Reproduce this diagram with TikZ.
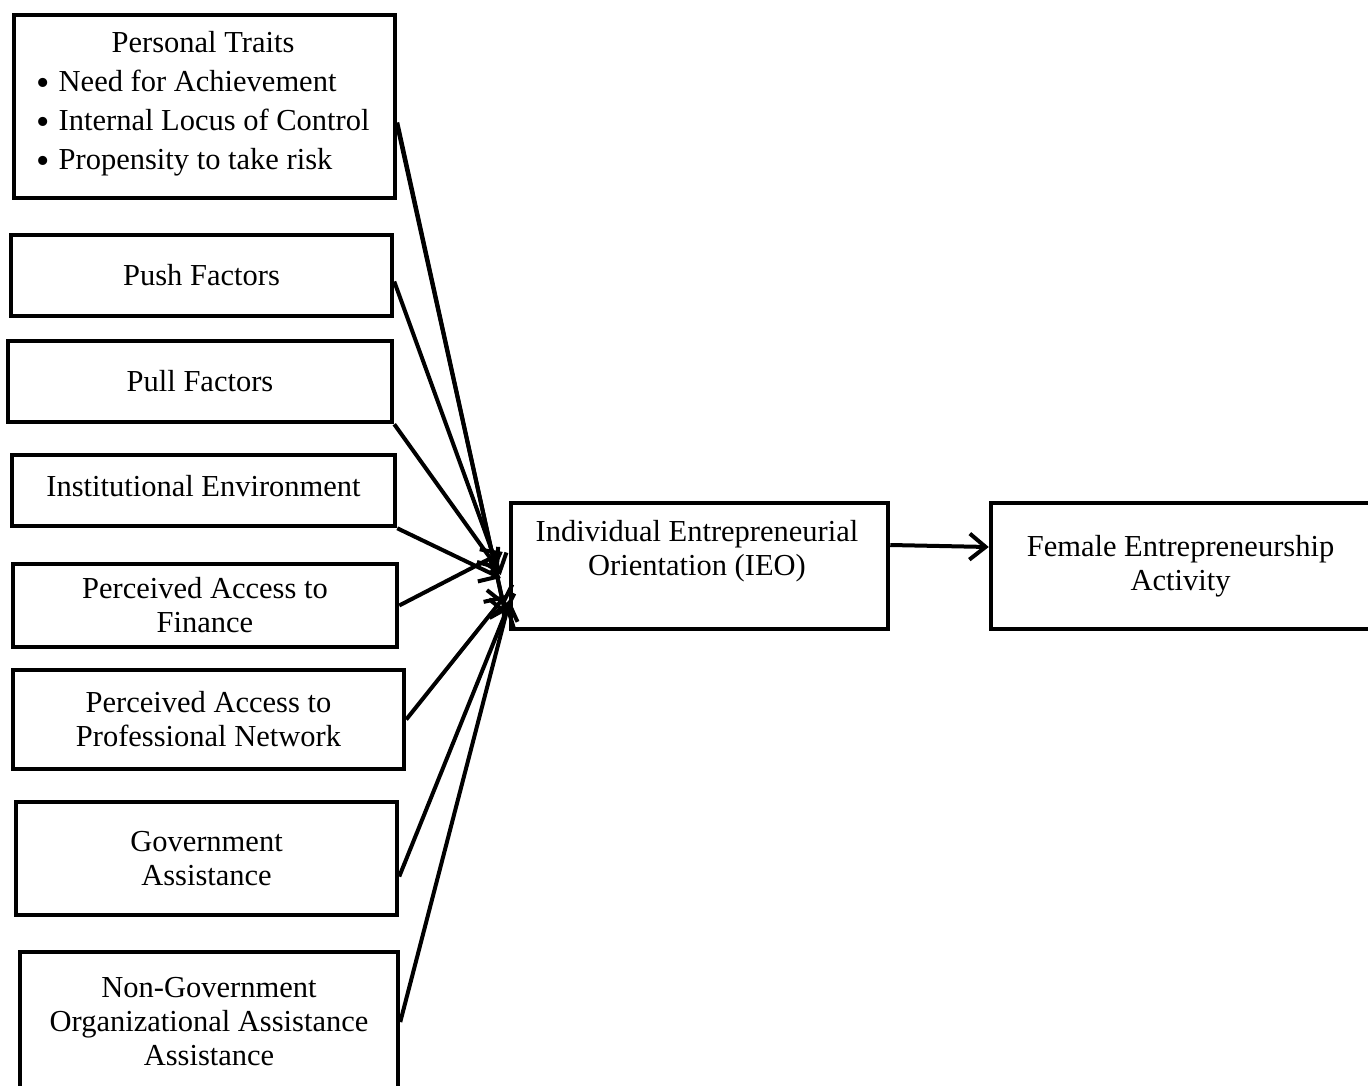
\documentclass[tikz,border=0pt]{standalone}
\usepackage{fontspec}
\setmainfont{Liberation Serif}
\usetikzlibrary{arrows.meta}
\newcommand{\fs}{\fontsize{30.5}{34}\selectfont}
\newcommand{\bul}{\raisebox{-4pt}{\fontsize{38}{38}\selectfont\textbullet}\hspace{9pt}}
\tikzset{
  box/.style={draw, line width=4.5pt, inner sep=0pt, align=center, font=\fs},
  lbl/.style={inner sep=0pt, align=center, font=\fs},
  arr/.style={line width=4pt, -{Straight Barb[length=16pt,width=26pt]}},
}
\begin{document}
\begin{tikzpicture}[x=1pt,y=-1pt]
\useasboundingbox (0,0) rectangle (1368,1086);
\node[box, minimum width=381, minimum height=183] (pt) at (204.5,106.5) {};
\node[lbl] (ptt) at (203,104) {\begin{tabular}{@{}l@{}}\multicolumn{1}{c}{Personal Traits}\\[5pt]
\bul Need for Achievement\\[5pt]
\bul Internal Locus of Control\\[5pt]
\bul Propensity to take risk\end{tabular}};
\node[box, minimum width=381, minimum height=81] (push) at (201.5,275.5) {Push Factors};
\node[box, minimum width=384, minimum height=81] (pull) at (200,381.5) {Pull Factors};
\node[box, minimum width=383, minimum height=71] (inst) at (203.5,490.5) {};
\node[lbl] (instt) at (203.5,486) {Institutional Environment};
\node[box, minimum width=384, minimum height=83] (fin) at (205,605.5) {Perceived Access to\\Finance};
\node[box, minimum width=391, minimum height=99] (net) at (208.5,719.5) {Perceived Access to\\Professional Network};
\node[box, minimum width=381, minimum height=113] (gov) at (206.5,858.5) {Government\\Assistance};
\node[box, minimum width=378, minimum height=140] (ngo) at (209,1022) {Non-Government\\Organizational Assistance\\Assistance};
\node[box, minimum width=377, minimum height=126] (ieo) at (699.5,566) {};
\node[lbl] (ieot) at (697,551) {Individual Entrepreneurial\\Orientation (IEO)};
\node[box, minimum width=379, minimum height=126] (fem) at (1180.5,566) {Female Entrepreneurship\\Activity};

\draw[arr] ([shift={(0,19)}]pt.east) -- ([shift={(-3,49)}]ieo.west);
\draw[arr] ([shift={(0,16)}]pt.east) -- ([shift={(-5,40)}]ieo.west);
\draw[arr] ([shift={(0,6)}]push.east) -- ([shift={(-8,9)}]ieo.west);
\draw[arr] (pull.south east) -- ([shift={(-10,4)}]ieo.west);
\draw[arr] (inst.south east) -- ([shift={(-8,12)}]ieo.west);
\draw[arr] (fin.east) -- ([shift={(-6,-14)}]ieo.west);
\draw[arr] (net.east) -- ([shift={(-3,29)}]ieo.west);
\draw[arr] ([shift={(0,18)}]gov.east) -- ([shift={(0,39)}]ieo.west);
\draw[arr] (ngo.east) -- ([shift={(1,34)}]ieo.west);
\draw[arr] ([shift={(0,-21)}]ieo.east) -- ([shift={(0,-19)}]fem.west);
\end{tikzpicture}
\end{document}
